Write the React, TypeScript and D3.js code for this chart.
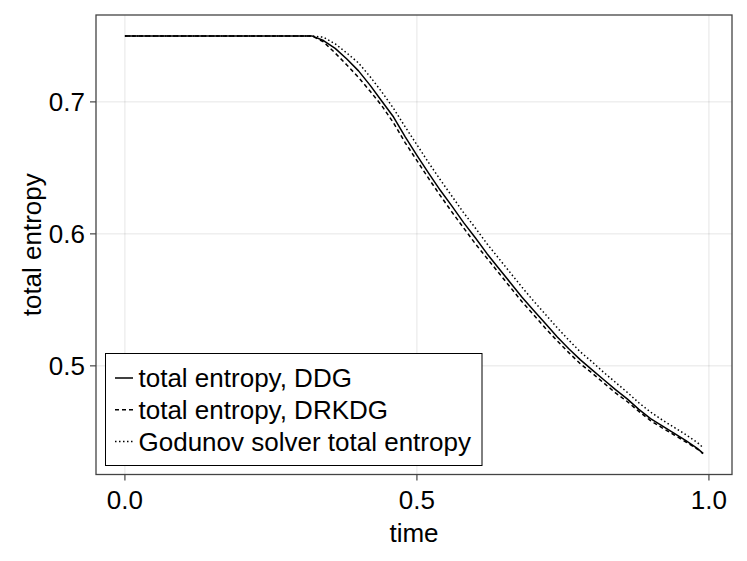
import { useRef, useEffect } from 'react';
import * as d3 from 'd3';

const times = [0, 0.1, 0.2, 0.3, 0.32, 0.34, 0.36, 0.38, 0.4, 0.42, 0.44, 0.46, 0.48, 0.5, 0.52, 0.54, 0.56, 0.58, 0.6, 0.62, 0.64, 0.66, 0.68, 0.7, 0.72, 0.74, 0.76, 0.78, 0.8, 0.82, 0.84, 0.86, 0.88, 0.9, 0.92, 0.94, 0.96, 0.98, 0.99];

const ddg = [0.75, 0.75, 0.75, 0.75, 0.75, 0.7465, 0.7405, 0.7325, 0.7235, 0.7125, 0.7005, 0.6885, 0.6735, 0.6595, 0.646, 0.633, 0.621, 0.6085, 0.597, 0.585, 0.574, 0.563, 0.552, 0.542, 0.532, 0.522, 0.513, 0.5045, 0.497, 0.4895, 0.482, 0.475, 0.467, 0.46, 0.4545, 0.449, 0.4435, 0.4375, 0.4337];

const drkdg = [0.75, 0.75, 0.75, 0.75, 0.75, 0.7455, 0.737, 0.728, 0.7185, 0.708, 0.697, 0.684, 0.669, 0.6555, 0.642, 0.629, 0.6165, 0.6045, 0.5925, 0.5815, 0.5705, 0.5595, 0.5485, 0.5385, 0.5285, 0.519, 0.51, 0.5015, 0.4945, 0.487, 0.4795, 0.473, 0.4655, 0.4585, 0.453, 0.4478, 0.4425, 0.437, 0.4335];

const godunov = [0.75, 0.75, 0.75, 0.75, 0.75, 0.749, 0.744, 0.737, 0.7295, 0.719, 0.7075, 0.695, 0.681, 0.6675, 0.654, 0.641, 0.6285, 0.616, 0.6045, 0.5925, 0.5815, 0.5705, 0.5595, 0.549, 0.539, 0.529, 0.5195, 0.5105, 0.503, 0.495, 0.4875, 0.48, 0.472, 0.465, 0.459, 0.4535, 0.448, 0.442, 0.438];

const seriesNames = ['total entropy, DDG', 'total entropy, DRKDG', 'Godunov solver total entropy'];
const xTicks = [0, 0.5, 1.0];
const yTicks = [0.5, 0.6, 0.7];

const FONT = '"Liberation Sans", Arial, sans-serif';
const FS = 26;

export default function App() {
  const svgRef = useRef<SVGSVGElement>(null);

  useEffect(() => {
    if (!svgRef.current) return;
    const width = 747;
    const height = 561;
    const svg = d3.select(svgRef.current);
    svg.selectAll('*').remove();
    svg.attr('width', width).attr('height', height);

    const left = 96, right = 732, top = 15, bottom = 474.5;

    const allY = [...ddg, ...drkdg, ...godunov];
    const [xMin, xMax] = d3.extent(times) as [number, number];
    const [yMin, yMax] = d3.extent(allY) as [number, number];
    const xPad = (xMax - xMin) * 0.05;
    const yPad = (yMax - yMin) * 0.05;

    const x = d3.scaleLinear().domain([xMin - xPad, xMax + xPad]).range([left, right]);
    const y = d3.scaleLinear().domain([yMin - yPad, yMax + yPad]).range([bottom, top]);

    svg.append('rect').attr('width', width).attr('height', height).attr('fill', '#fff');

    // grid
    const grid = svg.append('g').attr('stroke', '#000').attr('stroke-opacity', 0.1).attr('stroke-width', 1);
    xTicks.forEach((t) => {
      grid.append('line').attr('x1', x(t)).attr('x2', x(t)).attr('y1', top).attr('y2', bottom);
    });
    yTicks.forEach((t) => {
      grid.append('line').attr('x1', left).attr('x2', right).attr('y1', y(t)).attr('y2', y(t));
    });

    // lines
    const styles = [
      { dash: null },
      { dash: '4,3' },
      { dash: '1.5,2.5' },
    ];
    const data = [ddg, drkdg, godunov];
    const line = d3
      .line<number>()
      .x((_, i) => x(times[i]))
      .y((d) => y(d));

    data.forEach((vals, k) => {
      const p = svg
        .append('path')
        .datum(vals)
        .attr('fill', 'none')
        .attr('stroke', '#000')
        .attr('stroke-width', 1.5)
        .attr('stroke-linejoin', 'round')
        .attr('d', line);
      if (styles[k].dash) p.attr('stroke-dasharray', styles[k].dash as string);
    });

    // frame
    svg
      .append('rect')
      .attr('x', left)
      .attr('y', top)
      .attr('width', right - left)
      .attr('height', bottom - top)
      .attr('fill', 'none')
      .attr('stroke', '#444')
      .attr('stroke-width', 1.3);

    // ticks
    const ax = svg.append('g').attr('stroke', '#444').attr('stroke-width', 1.2);
    xTicks.forEach((t) => {
      ax.append('line').attr('x1', x(t)).attr('x2', x(t)).attr('y1', bottom).attr('y2', bottom + 6);
    });
    yTicks.forEach((t) => {
      ax.append('line').attr('x1', left - 6).attr('x2', left).attr('y1', y(t)).attr('y2', y(t));
    });

    const fmt = d3.format('.1f');
    svg
      .append('g')
      .selectAll('text')
      .data(xTicks)
      .enter()
      .append('text')
      .attr('x', (d) => x(d))
      .attr('y', bottom + 34)
      .attr('text-anchor', 'middle')
      .attr('font-family', FONT)
      .attr('font-size', FS)
      .attr('fill', '#000')
      .text((d) => fmt(d));

    svg
      .append('g')
      .selectAll('text')
      .data(yTicks)
      .enter()
      .append('text')
      .attr('x', left - 11)
      .attr('y', (d) => y(d))
      .attr('dy', '0.36em')
      .attr('text-anchor', 'end')
      .attr('font-family', FONT)
      .attr('font-size', FS)
      .attr('fill', '#000')
      .text((d) => fmt(d));

    svg
      .append('text')
      .attr('x', (left + right) / 2)
      .attr('y', 542)
      .attr('text-anchor', 'middle')
      .attr('font-family', FONT)
      .attr('font-size', FS)
      .text('time');

    svg
      .append('text')
      .attr('transform', `translate(41,${(top + bottom) / 2}) rotate(-90)`)
      .attr('text-anchor', 'middle')
      .attr('font-family', FONT)
      .attr('font-size', FS)
      .text('total entropy');

    // legend
    const lg = svg.append('g');
    lg.append('rect')
      .attr('x', 105.5)
      .attr('y', 353.5)
      .attr('width', 376.5)
      .attr('height', 112)
      .attr('fill', '#fff')
      .attr('stroke', '#000')
      .attr('stroke-width', 1);
    seriesNames.forEach((name, k) => {
      const cy = 378 + k * 31.8;
      const l = lg
        .append('line')
        .attr('x1', 115)
        .attr('x2', 133)
        .attr('y1', cy)
        .attr('y2', cy)
        .attr('stroke', '#000')
        .attr('stroke-width', 1.5);
      if (styles[k].dash) l.attr('stroke-dasharray', styles[k].dash as string);
      lg.append('text')
        .attr('x', 138.5)
        .attr('y', cy)
        .attr('dy', '0.36em')
        .attr('font-family', FONT)
        .attr('font-size', FS)
        .text(name);
    });
  }, []);

  return (
    <div style={{ position: 'absolute', left: 0, top: 0 }}>
      <svg ref={svgRef} style={{ display: 'block' }} />
    </div>
  );
}
